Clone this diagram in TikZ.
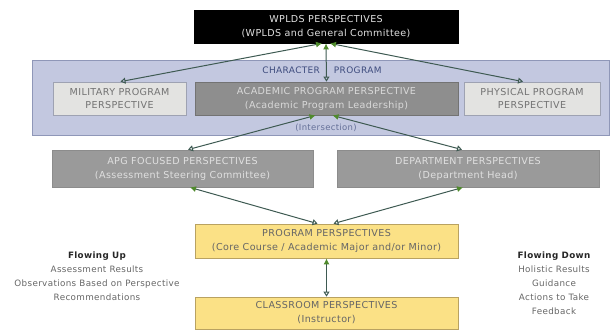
\documentclass[tikz,border=0pt]{standalone}
\usepackage{fontspec}
\setmainfont{DejaVu Sans}[LetterSpace=4]
\usetikzlibrary{arrows.meta}
\definecolor{charfill}{HTML}{C3C8E0}
\definecolor{chardraw}{HTML}{8F97B8}
\definecolor{lightfill}{HTML}{E3E3E1}
\definecolor{lightdraw}{HTML}{9EA2B2}
\definecolor{darkfill}{HTML}{8E8E8E}
\definecolor{midfill}{HTML}{9A9A9A}
\definecolor{yelfill}{HTML}{FBE186}
\definecolor{yeldraw}{HTML}{B9A261}
\definecolor{linecol}{HTML}{3E5A52}
\definecolor{headgreen}{HTML}{4F8A2C}
\definecolor{bluetext}{HTML}{3E4C7E}
\tikzset{
  box/.style={draw, line width=0.8bp, inner sep=0pt, align=center,
    font=\fontsize{9.6}{14}\selectfont},
  conn/.style={draw=linecol, line width=1bp,
    {Latex[length=6bp,width=6bp,fill=headgreen,color=headgreen]}-{Triangle[open,length=5bp,width=6bp,color=linecol]}},
  sidetext/.style={align=center, font=\fontsize{8.8}{14}\selectfont, text=black!60}
}
\begin{document}
\begin{tikzpicture}[x=1bp,y=-1bp]
\useasboundingbox (0,0) rectangle (611,329);
% Character program frame
\node[draw=chardraw, fill=charfill, line width=1bp, minimum width=576bp, minimum height=75bp, inner sep=0pt] (charbox) at (321,97.5) {};
\node[text=bluetext, font=\fontsize{9}{10}\selectfont] (chartitle) at (322,70) {CHARACTER\hspace{14bp}PROGRAM};
\node[text=bluetext!80, font=\fontsize{8.5}{10}\selectfont] (inter) at (326,128) {(Intersection)};
% top box
\node[box, draw=black, fill=black, text=black!12, minimum width=264bp, minimum height=33bp] (wplds) at (326,26.5) {WPLDS PERSPECTIVES\\(WPLDS and General Committee)};
% program boxes
\node[box, draw=lightdraw, fill=lightfill, text=black!55, minimum width=133bp, minimum height=33bp] (military) at (119.5,98.5) {MILITARY PROGRAM\\PERSPECTIVE};
\node[box, draw=black!55, fill=darkfill, text=black!15, minimum width=263bp, minimum height=33bp] (academic) at (326.5,98.5) {ACADEMIC PROGRAM PERSPECTIVE\\(Academic Program Leadership)};
\node[box, draw=lightdraw, fill=lightfill, text=black!55, minimum width=136bp, minimum height=33bp] (physical) at (532,98.5) {PHYSICAL PROGRAM\\PERSPECTIVE};
% focus boxes
\node[box, draw=black!45, fill=midfill, text=black!12, minimum width=261bp, minimum height=37bp] (apg) at (182.5,168.5) {APG FOCUSED PERSPECTIVES\\(Assessment Steering Committee)};
\node[box, draw=black!45, fill=midfill, text=black!12, minimum width=262bp, minimum height=37bp] (dept) at (468,168.5) {DEPARTMENT PERSPECTIVES\\(Department Head)};
% yellow boxes
\node[box, draw=yeldraw, fill=yelfill, text=black!60, minimum width=263bp, minimum height=34bp] (program) at (326.5,241) {PROGRAM PERSPECTIVES\\(Core Course / Academic Major and/or Minor)};
\node[box, draw=yeldraw, fill=yelfill, text=black!60, minimum width=263bp, minimum height=32bp] (classroom) at (326.5,313) {CLASSROOM PERSPECTIVES\\(Instructor)};
% side texts
\node[sidetext] (up) at (97,276) {\textcolor{black!85}{\bfseries Flowing Up}\\Assessment Results\\Observations Based on Perspective\\Recommendations};
\node[sidetext] (down) at (554,283) {\textcolor{black!85}{\bfseries Flowing Down}\\Holistic Results\\Guidance\\Actions to Take\\Feedback};
% connectors
\draw[conn] ([xshift=-4]wplds.south) -- ([xshift=1]military.north);
\draw[conn] (wplds.south) -- (academic.north);
\draw[conn] ([xshift=4]wplds.south) -- ([xshift=-9]physical.north);
\draw[conn] ([xshift=-11]academic.south) -- ([xshift=5.5]apg.north);
\draw[conn] ([xshift=6]academic.south) -- ([xshift=-6]dept.north);
\draw[conn] ([xshift=7.5]apg.south) -- ([xshift=-9]program.north);
\draw[conn] ([xshift=-5]dept.south) -- ([xshift=7]program.north);
\draw[conn] (program.south) -- (classroom.north);
\end{tikzpicture}
\end{document}
